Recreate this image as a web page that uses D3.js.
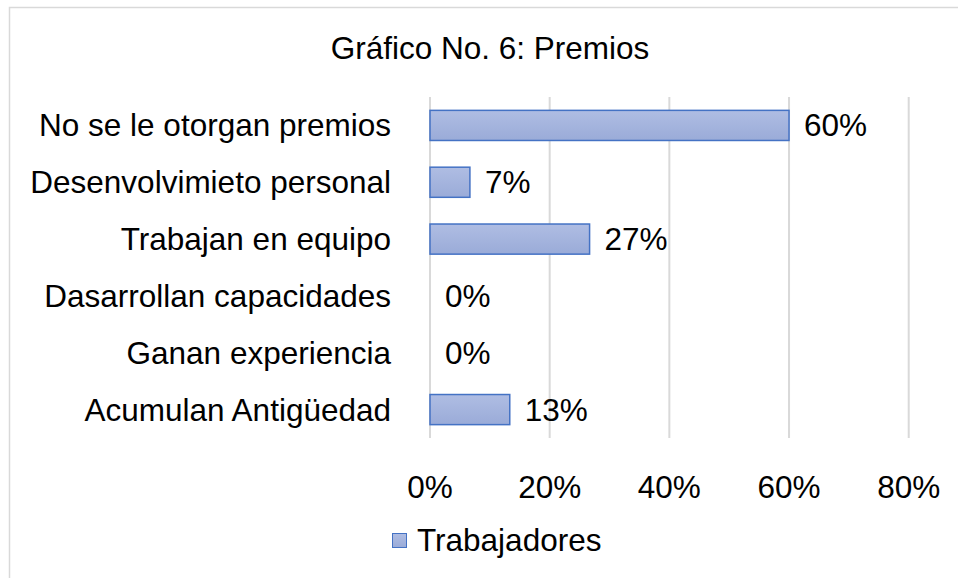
<!DOCTYPE html>
<head>
  <meta charset="utf-8">
  <title>Gráfico No. 6: Premios</title>
  <script src="https://d3js.org/d3.v7.min.js"></script>
  <style>
    body { margin: 0; background: #fff; }
    text { font-family: "Liberation Sans", Arial, sans-serif; fill: #000; }
  </style>
</head>
<body>
<svg width="958" height="578"></svg>

<script type="text/javascript">

var categories = ["No se le otorgan premios", "Desenvolvimieto personal", "Trabajan en equipo",
                  "Dasarrollan capacidades", "Ganan experiencia", "Acumulan Antigüedad"];
var values = [0.60, 0.0667, 0.2667, 0, 0, 0.1333];
var labels = ["60%", "7%", "27%", "0%", "0%", "13%"];
var ticks = [0, 0.2, 0.4, 0.6, 0.8];
var seriesName = "Trabajadores";

var fontSize = "31.5px";
var svg = d3.select("svg");

// chart frame (runs off the right/bottom like the source image)
svg.append("rect")
    .attr("x", 9.5).attr("y", 7.5)
    .attr("width", 1000).attr("height", 600)
    .style("fill", "none").style("stroke", "#d9d9d9").style("stroke-width", 1.5);

var defs = svg.append("defs");
var grad = defs.append("linearGradient").attr("id", "barGrad")
    .attr("x1", 0).attr("y1", 0).attr("x2", 0).attr("y2", 1);
grad.append("stop").attr("offset", "0%").attr("stop-color", "#afbde3");
grad.append("stop").attr("offset", "100%").attr("stop-color", "#9aabd8");

var x = d3.scaleLinear().domain([0, 0.8]).range([430, 908.7]);
var y = d3.scaleBand().domain(categories).range([97, 438]).paddingInner(0.47).paddingOuter(0.235);

// gridlines
svg.selectAll("line.grid")
  .data(ticks)
  .enter().append("line")
    .attr("class", "grid")
    .attr("x1", function(d) { return x(d); })
    .attr("x2", function(d) { return x(d); })
    .attr("y1", 97).attr("y2", 438)
    .style("stroke", "#d9d9d9").style("stroke-width", 2);

// bars (zero values draw nothing)
svg.selectAll("rect.bar")
  .data(values)
  .enter().append("rect")
    .attr("class", "bar")
    .attr("x", x(0))
    .attr("y", function(d, i) { return y(categories[i]); })
    .attr("width", function(d) { return x(d) - x(0); })
    .attr("height", y.bandwidth())
    .style("display", function(d) { return d > 0 ? null : "none"; })
    .style("fill", "url(#barGrad)")
    .style("stroke", "#4472c4").style("stroke-width", 1.5);

// data labels
svg.selectAll("text.val")
  .data(values)
  .enter().append("text")
    .attr("class", "val")
    .attr("x", function(d) { return x(d) + 15; })
    .attr("y", function(d, i) { return y(categories[i]) + y.bandwidth() / 2; })
    .attr("dy", "0.35em")
    .style("font-size", fontSize)
    .text(function(d, i) { return labels[i]; });

// category labels
svg.selectAll("text.cat")
  .data(categories)
  .enter().append("text")
    .attr("class", "cat")
    .attr("x", 391)
    .attr("y", function(d) { return y(d) + y.bandwidth() / 2; })
    .attr("dy", "0.35em")
    .attr("text-anchor", "end")
    .style("font-size", fontSize)
    .text(function(d) { return d; });

// x tick labels
svg.selectAll("text.tick")
  .data(ticks)
  .enter().append("text")
    .attr("class", "tick")
    .attr("x", function(d) { return x(d); })
    .attr("y", 487)
    .attr("dy", "0.35em")
    .attr("text-anchor", "middle")
    .style("font-size", fontSize)
    .text(d3.format(".0%"));

// title
svg.append("text")
    .attr("x", 490).attr("y", 47.5)
    .attr("dy", "0.35em")
    .attr("text-anchor", "middle")
    .style("font-size", fontSize)
    .text("Gráfico No. 6: Premios");

// legend
svg.append("rect")
    .attr("x", 392.5).attr("y", 533.5)
    .attr("width", 14).attr("height", 14)
    .style("fill", "url(#barGrad)")
    .style("stroke", "#4472c4").style("stroke-width", 1);
svg.append("text")
    .attr("x", 417).attr("y", 540)
    .attr("dy", "0.35em")
    .style("font-size", fontSize)
    .text(seriesName);

</script>
</body>
</html>
